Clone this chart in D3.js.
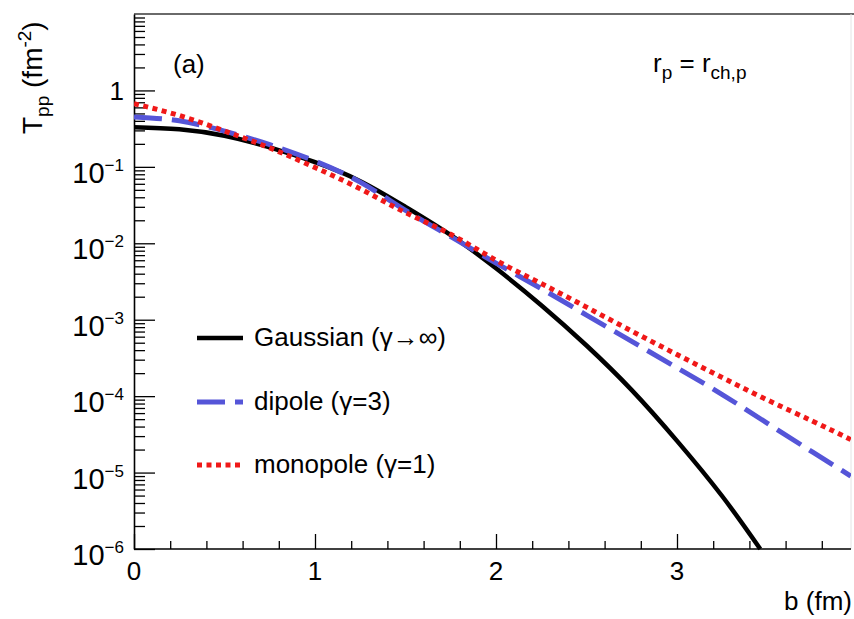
<!DOCTYPE html>
<html><head><meta charset="utf-8">
<script src="https://cdn.jsdelivr.net/npm/d3@7"></script>
<style>
body{margin:0;background:#fff}
text{font-family:"Liberation Sans",Arial,Helvetica,sans-serif;fill:#000}
</style>
</head><body>
<svg id="chart" width="854" height="619"></svg>
<script>
// ---- data ----
const gaussB = [0,0.25,0.5,0.75,1,1.25,1.5,1.75,2,2.25,2.5,2.75,3,3.25,3.46];
const gaussT = [0.33,0.31,0.255,0.18,0.115,0.065,0.030,0.0128,0.0047,0.00155,4.6e-4,1.2e-4,2.6e-5,4.9e-6,1.0e-6];
const dipoleB = [0,0.25,0.5,0.75,1,1.25,1.5,1.75,2,2.25,2.5,2.75,3,3.25,3.5,3.75,3.96];
const dipoleT = [0.45,0.40,0.293,0.195,0.119,0.063,0.027,0.0122,0.0055,0.00255,0.00115,5.2e-4,2.35e-4,1.05e-4,4.4e-5,1.85e-5,9.0e-6];
const monoB = [0,0.25,0.5,0.75,1,1.25,1.5,1.75,2,2.25,2.5,2.75,3,3.25,3.5,3.75,3.96];
const monoT = [0.67,0.47,0.295,0.177,0.098,0.0515,0.0252,0.0131,0.006,0.00297,0.00146,7.1e-4,3.5e-4,1.75e-4,8.9e-5,4.7e-5,2.7e-5];
const xMajor = [0,1,2,3];
const yDecades = [-6,-5,-4,-3,-2,-1,0];
const legendLabels = ["Gaussian (\u03B3\u2192\u221E)","dipole (\u03B3=3)","monopole (\u03B3=1)"];

const svg = d3.select("#chart");
const x = d3.scaleLinear().domain([0,4]).range([134,858]);
const y = d3.scaleLog().domain([1e-6,10]).range([549,14]);
const xRight = 851;

// frame
svg.append("line").attr("x1",134).attr("x2",854).attr("y1",14).attr("y2",14).attr("stroke","#6a6a6a").attr("stroke-width",2);
svg.append("line").attr("x1",xRight).attr("x2",xRight).attr("y1",14).attr("y2",549).attr("stroke","#e4e4e4").attr("stroke-width",1);

// y axis ticks
const yMinor = [];
for (let e=-6;e<=0;e++) for (let m=2;m<=9;m++) yMinor.push(m*Math.pow(10,e));
const yMaj = yDecades.map(e=>Math.pow(10,e));
svg.append("g").attr("transform","translate(134,0)")
  .call(d3.axisLeft(y).tickValues(yMinor).tickSize(-11).tickFormat(""))
  .call(g=>g.select(".domain").remove())
  .call(g=>g.selectAll("line").attr("stroke","#000").attr("stroke-width",1.3));
svg.append("g").attr("transform","translate(134,0)")
  .call(d3.axisLeft(y).tickValues(yMaj).tickSize(-21).tickFormat("").tickSizeOuter(0))
  .call(g=>g.select(".domain").attr("stroke","#000").attr("stroke-width",1.6))
  .call(g=>g.selectAll("line").attr("stroke","#000").attr("stroke-width",1.3));

// x axis ticks
const xMinor = d3.range(1,20).map(i=>i*0.2).filter(v=>Math.abs(v-Math.round(v))>1e-6);
svg.append("g").attr("transform","translate(0,549)")
  .call(d3.axisBottom(x).tickValues(xMinor).tickSize(-8).tickFormat(""))
  .call(g=>g.select(".domain").remove())
  .call(g=>g.selectAll("line").attr("stroke","#000").attr("stroke-width",1.3));
svg.append("g").attr("transform","translate(0,549)")
  .call(d3.axisBottom(x).tickValues(xMajor).tickSize(-15).tickFormat("").tickSizeOuter(0))
  .call(g=>g.select(".domain").attr("d",`M134,0H${xRight}`).attr("stroke","#000").attr("stroke-width",1.6))
  .call(g=>g.selectAll("line").attr("stroke","#000").attr("stroke-width",1.3));

// x labels
svg.append("g").selectAll("text").data(xMajor).join("text")
  .attr("x",d=>x(d)).attr("y",580).attr("text-anchor","middle").attr("font-size",26).text(d=>d);

// y labels
const yl = svg.append("g").selectAll("text").data(yDecades).join("text")
  .attr("text-anchor","end").attr("x",124)
  .attr("y",d=> d===0 ? y(1)+10 : y(Math.pow(10,d))+16);
yl.each(function(d){
  const t = d3.select(this);
  if (d===0){ t.attr("font-size",26).text("1"); }
  else {
    t.append("tspan").attr("font-size",29).text("10");
    t.append("tspan").attr("font-size",17).attr("dy",-12).text("\u2212"+(-d));
  }
});

// curves
const line = d3.line().x(d=>x(d[0])).y(d=>y(d[1])).curve(d3.curveNatural);
const series = [
  {b:gaussB,t:gaussT,color:"#000",dash:null,w:4.5},
  {b:dipoleB,t:dipoleT,color:"#5555d8",dash:"28,10",w:5},
  {b:monoB,t:monoT,color:"#f01818",dash:"5,4.5",w:5}
];
svg.append("defs").append("clipPath").attr("id","clip").append("rect")
  .attr("x",134).attr("y",14).attr("width",xRight-134).attr("height",549-14+3);
const cg = svg.append("g").attr("clip-path","url(#clip)");
series.forEach(s=>{
  const pts = s.b.map((b,i)=>[b,s.t[i]]);
  cg.append("path").datum(pts).attr("d",line).attr("fill","none")
    .attr("stroke",s.color).attr("stroke-width",s.w)
    .attr("stroke-dasharray",s.dash);
});

// legend
const legY = [338,402,465];
series.forEach((s,i)=>{
  svg.append("line").attr("x1",197).attr("x2",243).attr("y1",legY[i]).attr("y2",legY[i])
    .attr("stroke",s.color).attr("stroke-width",s.w).attr("stroke-dasharray",s.dash);
  svg.append("text").attr("x",254).attr("y",legY[i]+8).attr("font-size",26).text(legendLabels[i]);
});

// annotations
svg.append("text").attr("x",173).attr("y",73).attr("font-size",26).text("(a)");
const rt = svg.append("text").attr("x",653).attr("y",72).attr("font-size",26);
rt.append("tspan").text("r");
rt.append("tspan").attr("font-size",19).attr("dy",7).text("p");
rt.append("tspan").attr("dy",-7).text(" = r");
rt.append("tspan").attr("font-size",19).attr("dy",7).text("ch,p");

// axis titles
svg.append("text").attr("x",852).attr("y",610).attr("text-anchor","end").attr("font-size",26).text("b (fm)");
const yt = svg.append("text").attr("transform","translate(42,134) rotate(-90)").attr("font-size",28);
yt.append("tspan").text("T");
yt.append("tspan").attr("font-size",19).attr("dy",7).text("pp");
yt.append("tspan").attr("dy",-7).text(" (fm");
yt.append("tspan").attr("font-size",19).attr("dy",-11).text("-2");
yt.append("tspan").attr("dy",11).text(")");
</script>
</body></html>
